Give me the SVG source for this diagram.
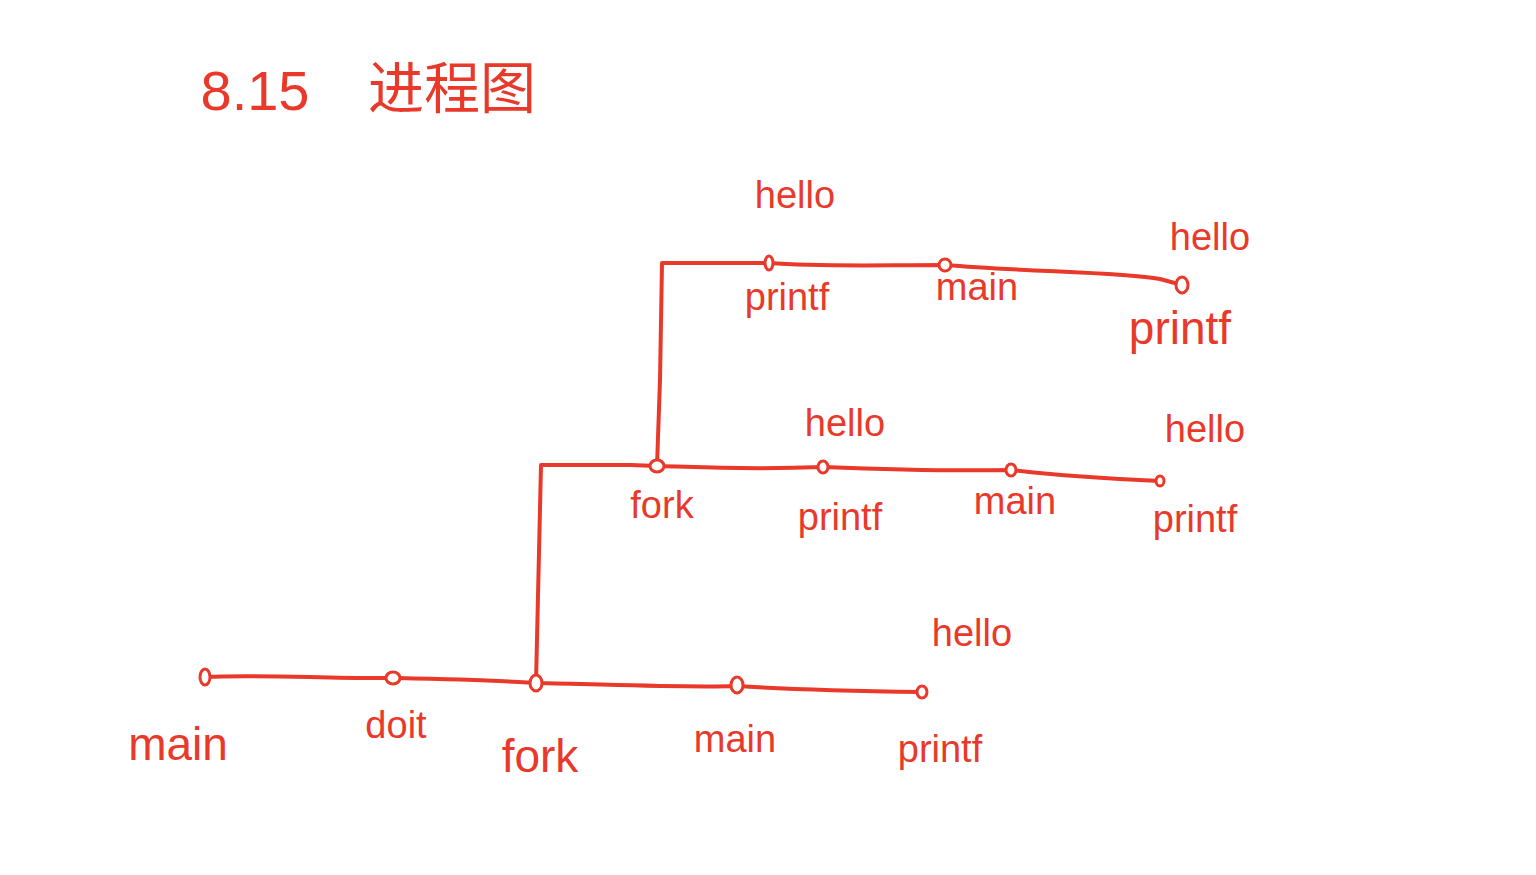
<svg xmlns="http://www.w3.org/2000/svg" width="1536" height="875" viewBox="0 0 1536 875">
<style>
.ln{fill:none;stroke:#E8392A;stroke-width:4;stroke-linecap:round;stroke-linejoin:round}
.nd{fill:#fff;stroke:#E8392A;stroke-width:3}
text{fill:#E8392A;font-family:"Liberation Sans","Noto Sans CJK SC",sans-serif;text-anchor:middle}
.lb{font-size:38px}
.big{font-size:46px}
.ttl{font-size:56px}
</style>
<rect width="1536" height="875" fill="#fff"/>
<g id="title">
<text class="ttl" x="255" y="110" font-weight="300">8.15</text>
<text class="ttl" x="452" y="108">进程图</text>
</g>
<g id="connectors">
<path class="ln" d="M205,677 C260,674 330,679 393,678 C440,679 490,680 536,683 C600,684 680,688 737,686 C800,690 860,691 922,692"/>
<path class="ln" d="M536,683 L541,465 L630,465 L657,466 C700,467 740,470 823,467 C900,470 960,471 1011,470 C1060,476 1110,479 1160,481"/>
<path class="ln" d="M657,466 L660,380 L662,263 L769,263 C820,267 880,265 945,265 C1030,272 1120,272 1160,279 L1182,285"/>
</g>
<g id="n-main0"><ellipse class="nd" cx="205" cy="677" rx="5" ry="8"/><text class="big" x="178" y="760">main</text></g>
<g id="n-doit"><ellipse class="nd" cx="393" cy="678" rx="7" ry="6"/><text class="lb" x="396" y="738">doit</text></g>
<g id="n-fork0"><ellipse class="nd" cx="536" cy="683" rx="6" ry="8"/><text class="big" x="540" y="772">fork</text></g>
<g id="n-main1"><ellipse class="nd" cx="737" cy="685" rx="6" ry="8"/><text class="lb" x="735" y="752">main</text></g>
<g id="n-printf0"><ellipse class="nd" cx="922" cy="692" rx="5" ry="6"/><text class="lb" x="940" y="762">printf</text><text class="lb" x="972" y="646">hello</text></g>
<g id="n-fork1"><ellipse class="nd" cx="657" cy="466" rx="7" ry="6"/><text class="lb" x="662" y="518">fork</text></g>
<g id="n-printf1"><ellipse class="nd" cx="823" cy="467" rx="5" ry="6"/><text class="lb" x="840" y="530">printf</text><text class="lb" x="845" y="436">hello</text></g>
<g id="n-main2"><ellipse class="nd" cx="1011" cy="470" rx="5" ry="6"/><text class="lb" x="1015" y="514">main</text></g>
<g id="n-printf2"><ellipse class="nd" cx="1160" cy="481" rx="4" ry="5"/><text class="lb" x="1195" y="532">printf</text><text class="lb" x="1205" y="442">hello</text></g>
<g id="n-printf3"><ellipse class="nd" cx="769" cy="263" rx="4" ry="7"/><text class="lb" x="787" y="310">printf</text><text class="lb" x="795" y="208">hello</text></g>
<g id="n-main3"><ellipse class="nd" cx="945" cy="265" rx="6" ry="6"/><text class="lb" x="977" y="300">main</text></g>
<g id="n-printf4"><ellipse class="nd" cx="1182" cy="285" rx="6" ry="8"/><text class="big" x="1180" y="344">printf</text><text class="lb" x="1210" y="250">hello</text></g>
</svg>
